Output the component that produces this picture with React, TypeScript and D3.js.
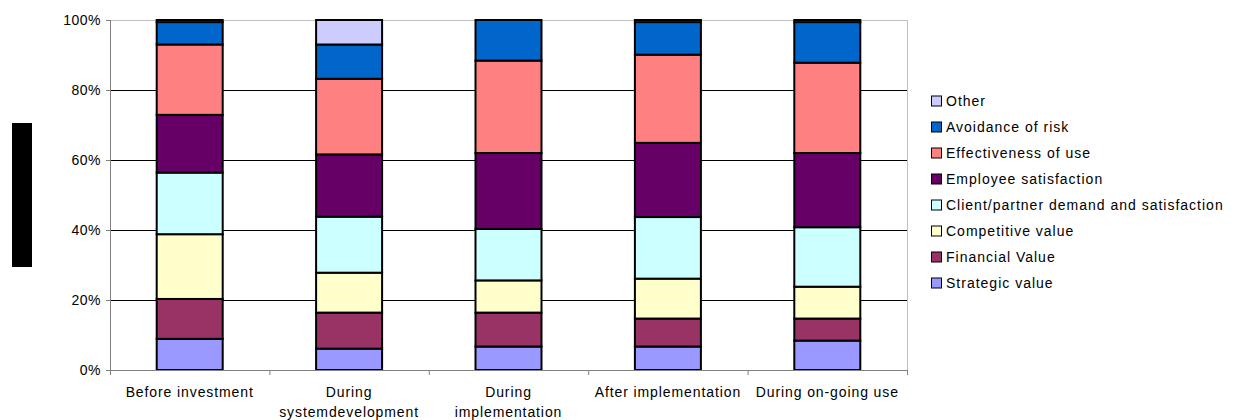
import React from "react";
import * as d3 from "d3";

const categories = [
  ["Before investment"],
  ["During", "systemdevelopment"],
  ["During", "implementation"],
  ["After implementation"],
  ["During on-going use"],
];

const seriesNames = [
  "Strategic value",
  "Financial Value",
  "Competitive value",
  "Client/partner demand and satisfaction",
  "Employee satisfaction",
  "Effectiveness of use",
  "Avoidance of risk",
  "Other",
];

const seriesColors = ["#9999FF", "#993366", "#FFFFCC", "#CCFFFF", "#660066", "#FF8080", "#0066CC", "#CCCCFF"];

const strategicValue = [8.9, 6.1, 6.7, 6.7, 8.4];
const financialValue = [11.4, 10.3, 9.7, 8.0, 6.3];
const competitiveValue = [18.5, 11.4, 9.2, 11.4, 9.1];
const clientDemand = [17.6, 16.0, 14.7, 17.6, 17.0];
const employeeSatisfaction = [16.5, 17.8, 21.7, 21.2, 21.2];
const effectivenessOfUse = [20.1, 21.6, 26.4, 25.2, 25.8];
const avoidanceOfRisk = [6.4, 9.8, 11.6, 9.3, 11.6];
const other = [0.6, 7.0, 0, 0.6, 0.6];

const yTicks = [0, 0.2, 0.4, 0.6, 0.8, 1];

export default function App() {
  const W = 1233, H = 420;
  const left = 110, right = 907, top = 20, bottom = 370;
  const seriesValues = [strategicValue, financialValue, competitiveValue, clientDemand, employeeSatisfaction, effectivenessOfUse, avoidanceOfRisk, other];
  const rows = categories.map((c, i) => {
    const r: any = { idx: i };
    seriesNames.forEach((s, j) => (r[s] = seriesValues[j][i]));
    return r;
  });
  const stack = d3.stack<any>().keys(seriesNames).offset(d3.stackOffsetExpand);
  const stacked = stack(rows);
  const x = d3.scaleBand<number>().domain(categories.map((_, i) => i)).range([left, right]).paddingInner(0).paddingOuter(0);
  const y = d3.scaleLinear().domain([0, 1]).range([bottom, top]);
  const barW = 66;
  const font = "'Liberation Sans', Arial, sans-serif";
  const fs = 14;
  const ls = 1.0;
  const legendX = 931, legendY0 = 101, legendStep = 26;
  const legendOrder = seriesNames.map((_, i) => i).reverse();

  return (
    <svg width={W} height={H} style={{ position: "absolute", left: 0, top: 0 }} fontFamily={font}>
      <rect x={0} y={0} width={W} height={H} fill="#fff" />
      {/* gridlines */}
      {yTicks.filter((t) => t > 0 && t < 1).map((t) => (
        <line key={t} x1={left} x2={right} y1={y(t) + 0.5} y2={y(t) + 0.5} stroke="#000" strokeWidth={1} />
      ))}
      <line x1={left} x2={right} y1={y(1) + 0.5} y2={y(1) + 0.5} stroke="#c0c0c0" strokeWidth={1} />
      <line x1={right + 0.5} x2={right + 0.5} y1={top} y2={bottom} stroke="#c0c0c0" strokeWidth={1} />
      {/* bars */}
      {stacked.map((layer, j) => (
        <g key={seriesNames[j]}>
          {layer.map((d, i) => {
            const h = y(d[0]) - y(d[1]);
            if (h <= 0) return null;
            return (
              <rect
                key={i}
                x={(x(i) as number) + x.bandwidth() / 2 - barW / 2}
                y={y(d[1])}
                width={barW}
                height={h}
                fill={seriesColors[j]}
                stroke="#000"
                strokeWidth={2}
              />
            );
          })}
        </g>
      ))}
      {/* axes */}
      <line x1={left + 0.5} x2={left + 0.5} y1={top} y2={bottom + 5} stroke="#808080" strokeWidth={1} />
      <line x1={left} x2={right} y1={bottom + 0.5} y2={bottom + 0.5} stroke="#808080" strokeWidth={1} />
      {yTicks.map((t) => (
        <g key={t}>
          <line x1={left - 4} x2={left} y1={y(t) + 0.5} y2={y(t) + 0.5} stroke="#808080" />
          <text x={left - 9} y={y(t)} dy="0.35em" textAnchor="end" fontSize={fs} letterSpacing={0.5} fill="#000">
            {d3.format(".0%")(t)}
          </text>
        </g>
      ))}
      {categories.map((_, i) => (
        <line key={"t" + i} x1={(x(i) as number) + x.bandwidth() + 0.5} x2={(x(i) as number) + x.bandwidth() + 0.5} y1={bottom} y2={bottom + 5} stroke="#808080" />
      ))}
      {categories.map((lines, i) => (
        <text key={"c" + i} x={(x(i) as number) + x.bandwidth() / 2} y={397} textAnchor="middle" fontSize={fs} letterSpacing={0.9} fill="#000">
          {lines.map((l, k) => (
            <tspan key={k} x={(x(i) as number) + x.bandwidth() / 2} dy={k === 0 ? 0 : 20}>
              {l}
            </tspan>
          ))}
        </text>
      ))}
      {/* legend */}
      {legendOrder.map((j, k) => (
        <g key={"l" + j}>
          <rect x={legendX + 0.5} y={legendY0 + k * legendStep - 5} width={10} height={10} fill={seriesColors[j]} stroke="#000" strokeWidth={1} />
          <text x={legendX + 15} y={legendY0 + k * legendStep} dy="0.35em" fontSize={fs} letterSpacing={ls} fill="#000">
            {seriesNames[j]}
          </text>
        </g>
      ))}
      {/* black block */}
      <rect x={12} y={123} width={20} height={144} fill="#000" />
    </svg>
  );
}
